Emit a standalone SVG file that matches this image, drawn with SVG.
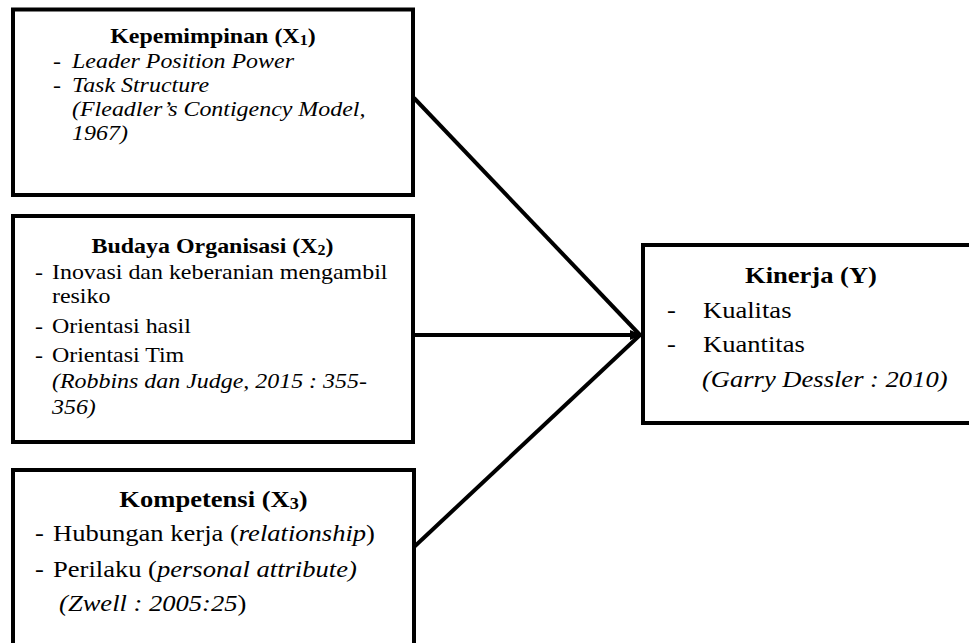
<svg xmlns="http://www.w3.org/2000/svg" width="969" height="643" viewBox="0 0 969 643">
<style>
  .box { fill: #fff; stroke: #000; stroke-width: 4; }
  .conn { stroke: #000; stroke-width: 4; fill: none; }
  text { font-family: "Liberation Serif", "Times New Roman", serif; fill: #000; }
  .s { font-size: 21px; }
  .l { font-size: 23.3px; }
  .b { font-weight: bold; }
  .i { font-style: italic; }
</style>
<defs>
  <marker id="arr" viewBox="0 0 12 10" refX="11" refY="5" markerWidth="12" markerHeight="10" markerUnits="userSpaceOnUse" orient="auto">
    <path d="M0,0 L12,5 L0,10 Z" fill="#000"/>
  </marker>
</defs>
<rect width="969" height="643" fill="#fff"/>

<g id="connectors">
  <line class="conn" x1="414" y1="98" x2="640" y2="335"/>
  <line class="conn" x1="415" y1="335" x2="641" y2="335" marker-end="url(#arr)"/>
  <line class="conn" x1="414" y1="547" x2="640" y2="335"/>
</g>

<g id="kepemimpinan">
  <rect class="box" x="13" y="9.5" width="400" height="185.5"/>
  <g transform="scale(1.14,1)">
    <text class="s b" x="186.8" y="43" text-anchor="middle">Kepemimpinan (X<tspan font-size="14" dy="2">1</tspan><tspan dy="-2">)</tspan></text>
    <text class="s" x="46.5" y="68">-</text>
    <text class="s i" x="63.2" y="68">Leader Position Power</text>
    <text class="s" x="46.5" y="92">-</text>
    <text class="s i" x="63.2" y="92">Task Structure</text>
    <text class="s i" x="63.2" y="116">(Fleadler’s Contigency Model,</text>
    <text class="s i" x="63.2" y="140">1967)</text>
  </g>
</g>

<g id="budaya">
  <rect class="box" x="13" y="216" width="400" height="226"/>
  <g transform="scale(1.14,1)">
    <text class="s b" x="186.4" y="253" text-anchor="middle">Budaya Organisasi (X<tspan font-size="14" dy="2">2</tspan><tspan dy="-2">)</tspan></text>
    <text class="s" x="30.7" y="279">-</text>
    <text class="s" x="45.6" y="279">Inovasi dan keberanian mengambil</text>
    <text class="s" x="45.6" y="303">resiko</text>
    <text class="s" x="30.7" y="333">-</text>
    <text class="s" x="45.6" y="333">Orientasi hasil</text>
    <text class="s" x="30.7" y="362">-</text>
    <text class="s" x="45.6" y="362">Orientasi Tim</text>
    <text class="s i" x="45.6" y="388">(Robbins dan Judge, 2015 : 355-</text>
    <text class="s i" x="45.6" y="414">356)</text>
  </g>
</g>

<g id="kompetensi">
  <rect class="box" x="13" y="470" width="401" height="200"/>
  <g transform="scale(1.14,1)">
    <text class="l b" x="187.3" y="507" text-anchor="middle">Kompetensi (X<tspan font-size="16" dy="2">3</tspan><tspan dy="-2">)</tspan></text>
    <text class="l" x="30.7" y="541">-</text>
    <text class="l" x="46.5" y="541">Hubungan kerja (<tspan class="i">relationship</tspan>)</text>
    <text class="l" x="30.7" y="577">-</text>
    <text class="l" x="46.5" y="577">Perilaku (<tspan class="i">personal attribute)</tspan></text>
    <text class="l" x="51.8" y="611"><tspan class="i">(Zwell : 2005:25</tspan>)</text>
  </g>
</g>

<g id="kinerja">
  <rect class="box" x="643" y="245" width="340" height="178"/>
  <g transform="scale(1.14,1)">
    <text class="l b" x="653.5" y="283">Kinerja (Y)</text>
    <text class="l" x="585" y="318">-</text>
    <text class="l" x="616.7" y="318">Kualitas</text>
    <text class="l" x="585" y="352">-</text>
    <text class="l" x="616.7" y="352">Kuantitas</text>
    <text class="l i" x="615.8" y="387">(Garry Dessler : 2010)</text>
  </g>
</g>
</svg>
